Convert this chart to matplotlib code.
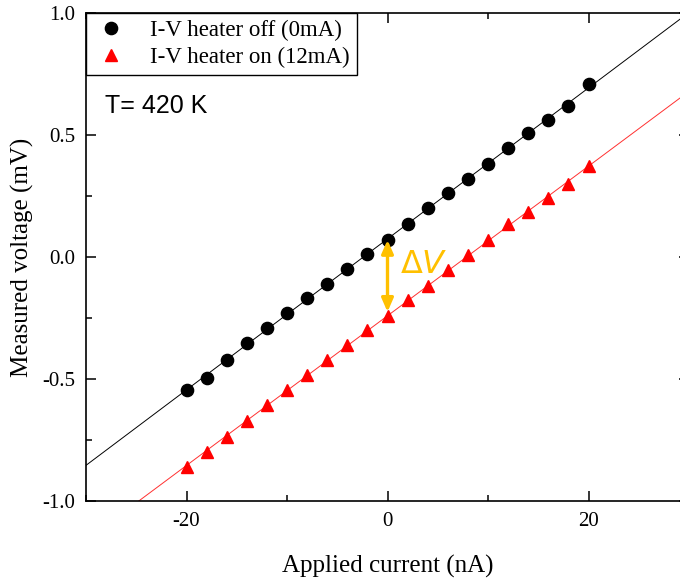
import numpy as np
import matplotlib
matplotlib.use("Agg")
import matplotlib.pyplot as plt
from matplotlib.ticker import MultipleLocator

# ---- data ----
current_nA = [-20, -18, -16, -14, -12, -10, -8, -6, -4, -2, 0,
              2, 4, 6, 8, 10, 12, 14, 16, 18, 20]
v_heater_off = [-0.545, -0.497, -0.422, -0.352, -0.291, -0.230, -0.168, -0.111,
                -0.049, 0.012, 0.070, 0.135, 0.200, 0.262, 0.320, 0.381,
                0.447, 0.508, 0.561, 0.619, 0.709]
v_heater_on = [-0.859, -0.798, -0.736, -0.672, -0.607, -0.545, -0.484, -0.422,
               -0.361, -0.299, -0.242, -0.176, -0.119, -0.053, 0.008, 0.070,
               0.135, 0.184, 0.242, 0.299, 0.374]
label_off = "I-V heater off (0mA)"
label_on = "I-V heater on (12mA)"
x_label = "Applied current (nA)"
y_label = "Measured voltage (mV)"
temp_text = "T= 420 K"
dv_text = r"$\Delta V$"

serif = "Liberation Serif"
gold = "#FFC000"

fig = plt.figure(figsize=(6.8, 5.79), dpi=100)
ax = fig.add_axes([86 / 680, 78 / 579, 603 / 680, 488 / 579])

x = np.array(current_nA, dtype=float)
yo = np.array(v_heater_off)
yr = np.array(v_heater_on)

xlim = (-30, 30)
xx = np.array(xlim, dtype=float)
po = np.polyfit(x, yo, 1)
pr = np.polyfit(x, yr, 1)
ax.plot(xx, np.polyval(po, xx), color="black", lw=0.7, zorder=2)
ax.plot(xx, np.polyval(pr, xx), color="#ff3030", lw=0.7, zorder=2)

ax.plot(x, yo, "o", color="black", ms=8.8, ls="none", label=label_off, zorder=3)
ax.plot(x, yr, "^", color="red", ms=9.3, ls="none", label=label_on, zorder=3)

# delta V arrow at I = 0
i0 = current_nA.index(0)
ax.annotate("", xy=(0, v_heater_on[i0] + 0.017), xytext=(0, v_heater_off[i0]),
            arrowprops=dict(arrowstyle="<|-|>,head_length=0.8,head_width=0.35",
                            color=gold, lw=2.4, shrinkA=0, shrinkB=0), zorder=4)
ax.text(1.2, -0.03, dv_text, color=gold, fontsize=23, va="center", ha="left")

ax.text(0.0315, 0.795, temp_text, transform=ax.transAxes, fontsize=18,
        family="Liberation Sans", va="baseline", ha="left")

ax.set_xlim(*xlim)
ax.set_ylim(-1.0, 1.0)
ax.xaxis.set_minor_locator(MultipleLocator(10))
ax.yaxis.set_minor_locator(MultipleLocator(0.25))
ax.set_xticks([-20, 0, 20])
ax.set_xticklabels(["-20", "0", "20"])
ax.set_yticks([-1.0, -0.5, 0.0, 0.5, 1.0])
ax.set_yticklabels(["-1.0", "-0.5", "0.0", "0.5", "1.0"])

ax.tick_params(which="both", direction="in", top=True, right=True, width=1.1)
ax.tick_params(which="major", length=7, pad=8)
ax.tick_params(which="minor", length=4)
for lab in ax.get_xticklabels() + ax.get_yticklabels():
    lab.set_family(serif)
    lab.set_fontsize(15)
for s in ax.spines.values():
    s.set_linewidth(1.2)

ax.set_xlabel(x_label, family=serif, fontsize=18, labelpad=17)
ax.set_ylabel(y_label, family=serif, fontsize=18, labelpad=6)

leg = ax.legend(loc="upper left", bbox_to_anchor=(0, 1), borderaxespad=0,
                fancybox=False, edgecolor="black", framealpha=1,
                prop={"family": serif, "size": 16.5}, handletextpad=0.9,
                borderpad=0.3, labelspacing=0.25, handlelength=1.6)
leg.get_frame().set_linewidth(1.0)

fig.savefig("out.png", dpi=100)
